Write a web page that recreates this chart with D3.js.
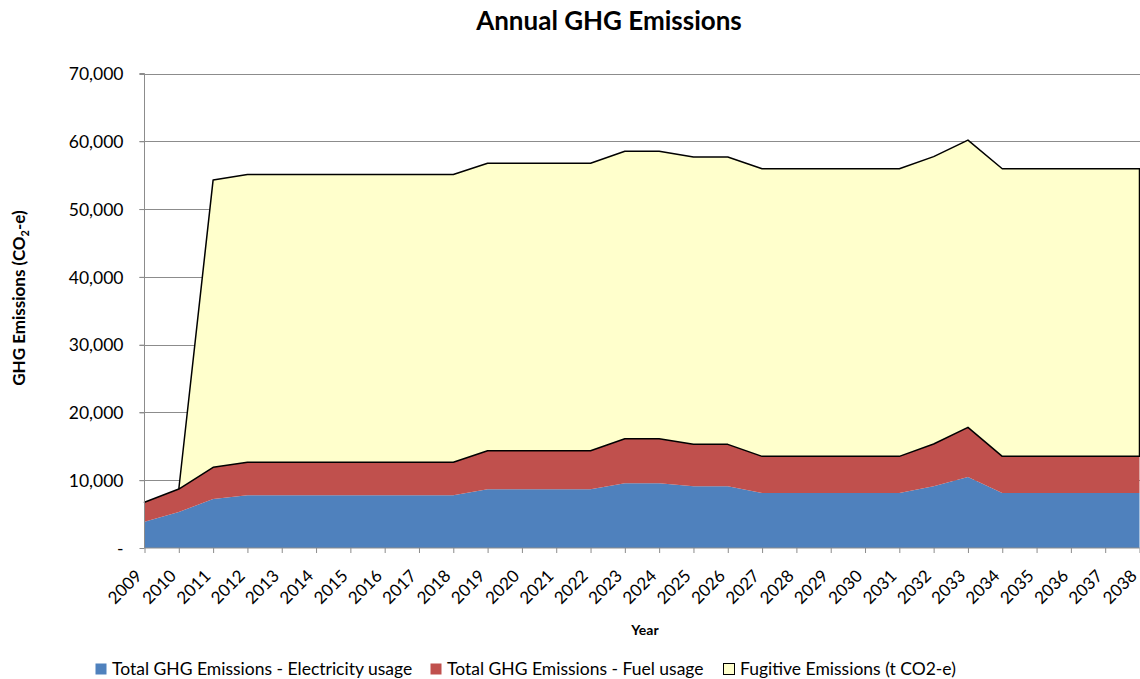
<!DOCTYPE html>
<html lang="en">
<head>
  <meta charset="UTF-8">
  <title>Annual GHG Emissions</title>
  <script src="https://d3js.org/d3.v7.min.js"></script>
  <style>
    body { margin: 0; background: #fff; }
    text { font-family: Lato, "Open Sans", sans-serif; fill: #000; }
  </style>
</head>
<body>
  <div class="canvas"></div>
  <script>
    const years = d3.range(2009, 2039).map(String);

    // electricity usage (t CO2-e)
    const electricity = [3880, 5310, 7230, 7770, 7770, 7770, 7770, 7770, 7770, 7770,
      8650, 8650, 8650, 8650, 9540, 9540, 9100, 9100, 8110, 8110,
      8110, 8110, 8110, 9100, 10470, 8110, 8110, 8110, 8110, 8110];
    // fuel usage
    const fuel = [2860, 3390, 4670, 4870, 4870, 4870, 4870, 4870, 4870, 4870,
      5700, 5700, 5700, 5700, 6580, 6580, 6190, 6190, 5410, 5410,
      5410, 5410, 5410, 6240, 7330, 5410, 5410, 5410, 5410, 5410];
    // fugitive emissions
    const fugitive = [0, 0, 42400, 42450, 42450, 42450, 42450, 42450, 42450, 42450,
      42400, 42400, 42400, 42400, 42420, 42420, 42400, 42400, 42430, 42430,
      42430, 42430, 42430, 42400, 42380, 42430, 42430, 42430, 42430, 42430];

    const seriesNames = ['Total GHG Emissions - Electricity usage',
      'Total GHG Emissions - Fuel usage', 'Fugitive Emissions (t CO2-e)'];
    const colors = ['#4f81bd', '#c0504d', '#ffffcc'];
    const yTicks = [0, 10000, 20000, 30000, 40000, 50000, 60000, 70000];

    const rows = years.map((y, i) => ({ year: y, e: electricity[i], f: fuel[i], g: fugitive[i] }));

    const W = 1140, H = 679;
    const plotL = 144.5, plotR = 1139.5, plotT = 73.5, plotB = 548;

    const svg = d3.select('.canvas').append('svg')
      .attr('width', W).attr('height', H);

    const x = d3.scalePoint().domain(years).range([plotL, plotR]);
    const y = d3.scaleLinear().domain([0, 70000]).range([plotB, plotT]);

    // gridlines
    svg.append('g').selectAll('line')
      .data(yTicks.slice(1))
      .enter().append('line')
      .attr('x1', plotL - 5).attr('x2', W)
      .attr('y1', d => Math.round(y(d)) + 0.5).attr('y2', d => Math.round(y(d)) + 0.5)
      .attr('stroke', '#8c8c8c').attr('stroke-width', 1);

    const stack = d3.stack().keys(['e', 'f', 'g']);
    const layers = stack(rows);

    const area = d3.area()
      .x(d => x(d.data.year))
      .y0(d => y(d[0]))
      .y1(d => y(d[1]));

    svg.append('g').selectAll('path')
      .data(layers)
      .enter().append('path')
      .attr('d', area)
      .attr('fill', (d, i) => colors[i])
      .attr('stroke', (d, i) => i === 2 ? '#000' : 'none')
      .attr('stroke-width', 1.5)
      .attr('stroke-linejoin', 'round');

    // y axis
    const yAxis = d3.axisLeft(y).tickValues(yTicks).tickSize(5)
      .tickFormat(d => d === 0 ? '-' : d3.format(',')(d));
    const yg = svg.append('g').attr('transform', `translate(${plotL},0)`).call(yAxis);
    yg.select('.domain').attr('stroke', '#8c8c8c').attr('d', `M-5,${plotT}H0V${plotB}`);
    yg.selectAll('.tick line').attr('stroke', '#8c8c8c');
    yg.selectAll('.tick text').attr('x', -21).attr('dy', '0.36em')
      .style('font-size', '17.5px')
      .style('font-family', 'Lato, sans-serif');

    // x axis
    const xAxis = d3.axisBottom(x).tickSize(5).tickSizeOuter(0);
    const xg = svg.append('g').attr('transform', `translate(0,${plotB})`).call(xAxis);
    xg.select('.domain').attr('stroke', '#8c8c8c').attr('d', `M${plotL},0H${plotR}`);
    xg.selectAll('.tick line').attr('stroke', '#8c8c8c');
    xg.selectAll('.tick text')
      .attr('y', 0).attr('dy', 0)
      .attr('text-anchor', 'end')
      .attr('transform', 'translate(-2,29) rotate(-45)')
      .style('font-size', '17px')
      .style('font-family', 'Lato, sans-serif');

    // titles
    svg.append('text')
      .attr('x', 609).attr('y', 30)
      .attr('text-anchor', 'middle')
      .style('font-size', '26px').style('font-weight', 'bold')
      .text('Annual GHG Emissions');

    svg.append('text')
      .attr('x', 645).attr('y', 635)
      .attr('text-anchor', 'middle')
      .style('font-size', '14px').style('font-weight', 'bold')
      .text('Year');

    const yt = svg.append('text')
      .attr('transform', 'translate(25,298) rotate(-90)')
      .attr('text-anchor', 'middle')
      .style('font-size', '17px').style('font-weight', 'bold');
    yt.append('tspan').text('GHG Emissions (CO');
    yt.append('tspan').attr('dy', 4).style('font-size', '11px').text('2');
    yt.append('tspan').attr('dy', -4).text('-e)');

    // legend
    const legendX = [95, 430, 723];
    const lg = svg.append('g').selectAll('g')
      .data(seriesNames)
      .enter().append('g')
      .attr('transform', (d, i) => `translate(${legendX[i]},663)`);
    lg.append('rect')
      .attr('x', 0.5).attr('y', 0.5).attr('width', 11).attr('height', 11)
      .attr('fill', (d, i) => colors[i])
      .attr('stroke', (d, i) => i === 2 ? '#000' : 'none');
    lg.append('text')
      .attr('x', 17).attr('y', 12)
      .style('font-size', '17.5px')
      .text(d => d);
  </script>
</body>
</html>
